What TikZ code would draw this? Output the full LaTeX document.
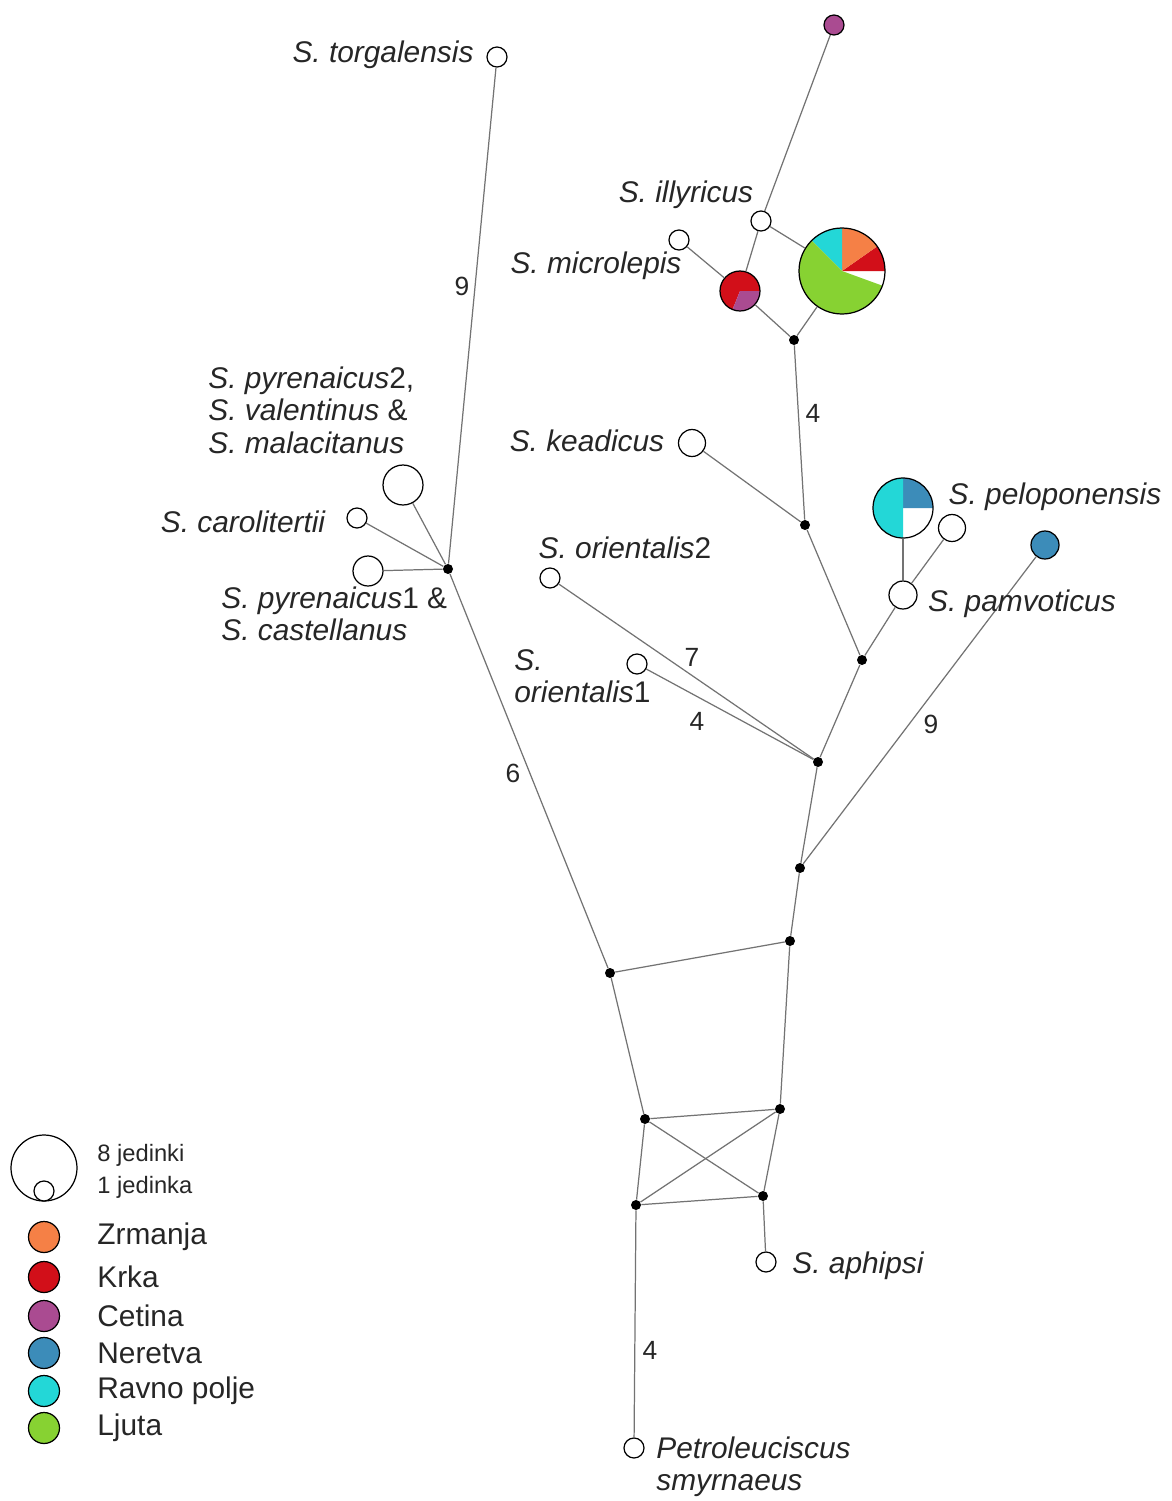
\documentclass[tikz,border=0pt]{standalone}
\usepackage{fontspec}
\setmainfont{Liberation Sans}
\definecolor{zrmanja}{RGB}{245,128,70}
\definecolor{krka}{RGB}{210,15,25}
\definecolor{cetina}{RGB}{170,75,145}
\definecolor{neretva}{RGB}{60,140,185}
\definecolor{ravno}{RGB}{35,215,215}
\definecolor{ljuta}{RGB}{135,210,50}
\newcommand{\hapslice}[4]{\fill[#4] (path picture bounding box.center) -- ++(#2:#1) arc[start angle=#2, end angle=#3, radius=#1] -- cycle;}
\begin{document}
\begin{tikzpicture}[x=0.02cm, y=-0.02cm,
    hap/.style={circle, draw, fill=white, inner sep=0pt, line width=0.7pt, minimum size=#1},
    hap/.default=0.4cm,
    knot/.style={circle, fill=black, inner sep=0pt, minimum size=0.2cm},
    link/.style={draw=black!55, line width=0.7pt},
    sp/.style={font=\fontsize{17}{18.5}\selectfont\itshape, text=black!85, inner sep=0pt, align=left},
    num/.style={font=\fontsize{15}{17}\selectfont, text=black!85, inner sep=0pt},
    leg/.style={font=\fontsize{17}{19}\selectfont, text=black!85, inner sep=0pt, anchor=west}]
    \useasboundingbox (0,0) rectangle (1172,1501);
    % haplotypes
    \node[hap] (torg) at (497,57) {};
    \node[hap, fill=cetina] (cet) at (834,25) {};
    \node[hap] (illy) at (761,221) {};
    \node[hap] (micr) at (679,240) {};
    \node[hap=0.8cm, path picture={\hapslice{0.5cm}{0}{248}{krka}\hapslice{0.5cm}{248}{360}{cetina}}] (pkc) at (740,291) {};
    \node[hap=1.72cm, path picture={\hapslice{1cm}{0}{35}{krka}\hapslice{1cm}{35}{90}{zrmanja}\hapslice{1cm}{90}{135}{ravno}\hapslice{1cm}{135}{340}{ljuta}}] (pbig) at (842,271) {};
    \node[hap=0.54cm] (kead) at (692,443) {};
    \node[hap=1.2cm, path picture={\hapslice{0.7cm}{0}{90}{neretva}\hapslice{0.7cm}{90}{270}{ravno}}] (pelo) at (903,508) {};
    \node[hap=0.54cm] (pelo2) at (952,528) {};
    \node[hap=0.56cm] (pamv) at (903,595) {};
    \node[hap=0.56cm, fill=neretva] (ner) at (1045,545) {};
    \node[hap] (ori2) at (550,578) {};
    \node[hap] (ori1) at (637,664) {};
    \node[hap] (caro) at (357,518) {};
    \node[hap=0.8cm] (pyr2) at (403,485) {};
    \node[hap=0.6cm] (pyr1) at (368,571) {};
    \node[hap] (aphi) at (766,1262) {};
    \node[hap] (petr) at (634,1448) {};
    % median vectors
    \foreach \n/\x/\y in {k1/448/569, k2/794/340, k3/805/525, k4/862/660, k5/818/762, k6/800/868,
        k7/790/941, k8/610/973, k9/645/1119, k10/780/1109, k11/636/1205, k12/763/1196}
    {\node[knot] (\n) at (\x,\y) {};}
    \foreach \a/\b in {torg/k1, pyr2/k1, caro/k1, pyr1/k1, k1/k8, k8/k7, k8/k9, k7/k10, k7/k6,
        k6/k5, k6/ner, k5/ori2, k5/ori1, k5/k4, k4/k3, k4/pamv, pamv/pelo, pamv/pelo2, k3/kead,
        k3/k2, k2/pkc, k2/pbig, pkc/micr, pkc/illy, illy/pbig, illy/cet,
        k9/k10, k9/k11, k9/k12, k10/k11, k10/k12, k11/k12, k12/aphi, k11/petr}
    {\draw[link] (\a) -- (\b);}
    % mutation steps
    \node[num] (m9a) at (462,286) {9};
    \node[num] (m4a) at (813,413) {4};
    \node[num] (m7) at (692,657) {7};
    \node[num] (m4b) at (697,721) {4};
    \node[num] (m9b) at (931,724) {9};
    \node[num] (m6) at (513,773) {6};
    \node[num] (m4c) at (650,1350) {4};
    % names
    \node[sp] (ttorg) at (383,55) {S. torgalensis};
    \node[sp] (tilly) at (686,195) {S. illyricus};
    \node[sp] (tmicr) at (596,266) {S. microlepis};
    \node[sp] (tkead) at (587,441) {S. keadicus};
    \node[sp, anchor=west] (tpyr2) at (208,410) {S. pyrenaicus{\upshape 2,}\\ S. valentinus {\upshape\&}\\ S. malacitanus};
    \node[sp] (tcaro) at (243,522) {S. carolitertii};
    \node[sp, anchor=west] (tpyr1) at (221,614) {S. pyrenaicus{\upshape 1 \&}\\ S. castellanus};
    \node[sp] (tori2) at (625,548) {S. orientalis{\upshape 2}};
    \node[sp, anchor=west] (tori1) at (514,676) {S.\\ orientalis{\upshape 1}};
    \node[sp] (tpelo) at (1055,497) {S. peloponensis};
    \node[sp] (tpamv) at (1022,604) {S. pamvoticus};
    \node[sp] (taphi) at (858,1266) {S. aphipsi};
    \node[sp, anchor=west] (tpetr) at (656,1467) {Petroleuciscus\\ smyrnaeus};
    % legend
    \node[hap=1.32cm] (lbig) at (44,1168) {};
    \node[hap=0.4cm] (lsmall) at (44,1191) {};
    \node[leg, font=\fontsize{13.5}{15}\selectfont] (ln8) at (97,1155) {8 jedinki};
    \node[leg, font=\fontsize{13.5}{15}\selectfont] (ln1) at (97,1187) {1 jedinka};
    \foreach \c/\t/\y [count=\i] in {zrmanja/Zrmanja/1237, krka/Krka/1277, cetina/Cetina/1316,
        neretva/Neretva/1353, ravno/Ravno polje/1391, ljuta/Ljuta/1428}
    {\node[hap=0.62cm, fill=\c] (lc\i) at (44,\y) {};
     \node[leg] (lt\i) at (97,\y) {\t};}
\end{tikzpicture}
\end{document}
